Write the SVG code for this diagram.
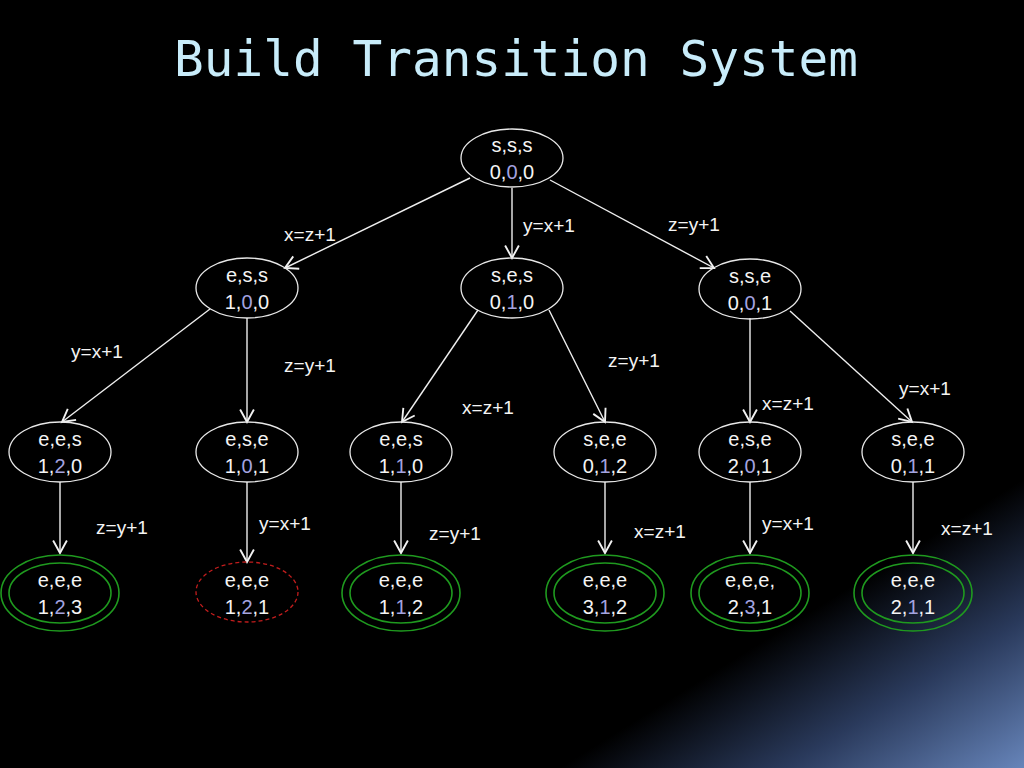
<svg xmlns="http://www.w3.org/2000/svg" width="1024" height="768" viewBox="0 0 1024 768">
<defs>
<linearGradient id="glow" gradientUnits="userSpaceOnUse" x1="805" y1="615" x2="945" y2="840">
<stop offset="0" stop-color="#000000"/>
<stop offset="0.45" stop-color="#2a3a5c"/>
<stop offset="1" stop-color="#7090c8"/>
</linearGradient>
<marker id="arr" markerUnits="userSpaceOnUse" markerWidth="20" markerHeight="20" refX="0" refY="0" viewBox="-12 -8 14 16" orient="auto">
<path d="M-10,-5.5 L0,0 L-10,5.5" fill="none" stroke="#f2f2f2" stroke-width="1.5"/>
</marker>
<style>
.e{fill:none;stroke:#e8e8e8;stroke-width:1.3}
.g{fill:none;stroke:#1f9a1f;stroke-width:1.6}
.r{fill:none;stroke:#c21d1d;stroke-width:1.3;stroke-dasharray:4 3}
.t{font-family:"Liberation Sans","Noto Sans",sans-serif;font-size:20px;fill:#f4f4f4;text-anchor:middle}
.m{fill:#a4a4e0}
.l{font-family:"Liberation Sans","Noto Sans",sans-serif;font-size:19px;fill:#f4f4f4;text-anchor:middle}
.c line{stroke:#efefef;stroke-width:1.4;marker-end:url(#arr)}
</style>
</defs>
<rect width="1024" height="768" fill="#000"/>
<rect width="1024" height="768" fill="url(#glow)"/>
<text x="516" y="76" font-family="'DejaVu Sans Mono','Liberation Mono',monospace" font-size="49" fill="#c8ecfa" text-anchor="middle" textLength="684" lengthAdjust="spacingAndGlyphs">Build Transition System</text>

<g class="c" id="connectors">
<line x1="470" y1="178" x2="285" y2="268"/>
<line x1="512" y1="188" x2="512" y2="258"/>
<line x1="550" y1="180" x2="714" y2="268"/>
<line x1="210" y1="309" x2="62" y2="422"/>
<line x1="247" y1="318" x2="247" y2="422"/>
<line x1="478" y1="310" x2="402" y2="422"/>
<line x1="549" y1="310" x2="605" y2="422"/>
<line x1="750" y1="318" x2="750" y2="422"/>
<line x1="790" y1="311" x2="912" y2="422"/>
<line x1="60" y1="482" x2="60" y2="553"/>
<line x1="247" y1="482" x2="247" y2="562"/>
<line x1="401" y1="482" x2="401" y2="553"/>
<line x1="605" y1="482" x2="605" y2="553"/>
<line x1="750" y1="482" x2="750" y2="553"/>
<line x1="913" y1="482" x2="913" y2="553"/>
</g>

<g id="edge-labels">
<text class="l" x="310" y="241">x=z+1</text>
<text class="l" x="549" y="232">y=x+1</text>
<text class="l" x="694" y="231">z=y+1</text>
<text class="l" x="97" y="358">y=x+1</text>
<text class="l" x="310" y="372">z=y+1</text>
<text class="l" x="488" y="414">x=z+1</text>
<text class="l" x="634" y="367">z=y+1</text>
<text class="l" x="788" y="410">x=z+1</text>
<text class="l" x="925" y="395">y=x+1</text>
<text class="l" x="122" y="534">z=y+1</text>
<text class="l" x="285" y="530">y=x+1</text>
<text class="l" x="455" y="540">z=y+1</text>
<text class="l" x="660" y="538">x=z+1</text>
<text class="l" x="788" y="530">y=x+1</text>
<text class="l" x="967" y="535">x=z+1</text>
</g>

<g id="n-sss"><ellipse class="e" cx="512" cy="158" rx="51" ry="29"/><text class="t" x="512" y="152">s,s,s</text><text class="t" x="512" y="179">0,<tspan class="m">0</tspan>,0</text></g>

<g id="n-ess"><ellipse class="e" cx="247" cy="288" rx="51" ry="30"/><text class="t" x="247" y="282">e,s,s</text><text class="t" x="247" y="309">1,<tspan class="m">0</tspan>,0</text></g>
<g id="n-ses"><ellipse class="e" cx="512" cy="288" rx="51" ry="30"/><text class="t" x="512" y="282">s,e,s</text><text class="t" x="512" y="309">0,<tspan class="m">1</tspan>,0</text></g>
<g id="n-sse"><ellipse class="e" cx="750" cy="289" rx="51" ry="30"/><text class="t" x="750" y="283">s,s,e</text><text class="t" x="750" y="310">0,<tspan class="m">0</tspan>,1</text></g>

<g id="n-ees-120"><ellipse class="e" cx="60" cy="452" rx="51" ry="30"/><text class="t" x="60" y="446">e,e,s</text><text class="t" x="60" y="473">1,<tspan class="m">2</tspan>,0</text></g>
<g id="n-ese-101"><ellipse class="e" cx="247" cy="452" rx="51" ry="30"/><text class="t" x="247" y="446">e,s,e</text><text class="t" x="247" y="473">1,<tspan class="m">0</tspan>,1</text></g>
<g id="n-ees-110"><ellipse class="e" cx="401" cy="452" rx="51" ry="30"/><text class="t" x="401" y="446">e,e,s</text><text class="t" x="401" y="473">1,<tspan class="m">1</tspan>,0</text></g>
<g id="n-see-012"><ellipse class="e" cx="605" cy="452" rx="51" ry="30"/><text class="t" x="605" y="446">s,e,e</text><text class="t" x="605" y="473">0,<tspan class="m">1</tspan>,2</text></g>
<g id="n-ese-201"><ellipse class="e" cx="750" cy="452" rx="51" ry="30"/><text class="t" x="750" y="446">e,s,e</text><text class="t" x="750" y="473">2,<tspan class="m">0</tspan>,1</text></g>
<g id="n-see-011"><ellipse class="e" cx="913" cy="452" rx="51" ry="30"/><text class="t" x="913" y="446">s,e,e</text><text class="t" x="913" y="473">0,<tspan class="m">1</tspan>,1</text></g>

<g id="n-eee-123"><ellipse class="g" cx="60" cy="593" rx="59" ry="38"/><ellipse class="g" cx="60" cy="593" rx="51" ry="30"/><text class="t" x="60" y="587">e,e,e</text><text class="t" x="60" y="614">1,<tspan class="m">2</tspan>,3</text></g>
<g id="n-eee-121"><ellipse class="r" cx="247" cy="592" rx="51" ry="30"/><text class="t" x="247" y="587">e,e,e</text><text class="t" x="247" y="614">1,<tspan class="m">2</tspan>,1</text></g>
<g id="n-eee-112"><ellipse class="g" cx="401" cy="593" rx="59" ry="38"/><ellipse class="g" cx="401" cy="593" rx="51" ry="30"/><text class="t" x="401" y="587">e,e,e</text><text class="t" x="401" y="614">1,<tspan class="m">1</tspan>,2</text></g>
<g id="n-eee-312"><ellipse class="g" cx="605" cy="593" rx="59" ry="38"/><ellipse class="g" cx="605" cy="593" rx="51" ry="30"/><text class="t" x="605" y="587">e,e,e</text><text class="t" x="605" y="614">3,<tspan class="m">1</tspan>,2</text></g>
<g id="n-eee-231"><ellipse class="g" cx="750" cy="593" rx="59" ry="38"/><ellipse class="g" cx="750" cy="593" rx="51" ry="30"/><text class="t" x="750" y="587">e,e,e,</text><text class="t" x="750" y="614">2,<tspan class="m">3</tspan>,1</text></g>
<g id="n-eee-211"><ellipse class="g" cx="913" cy="593" rx="59" ry="38"/><ellipse class="g" cx="913" cy="593" rx="51" ry="30"/><text class="t" x="913" y="587">e,e,e</text><text class="t" x="913" y="614">2,<tspan class="m">1</tspan>,1</text></g>
</svg>
